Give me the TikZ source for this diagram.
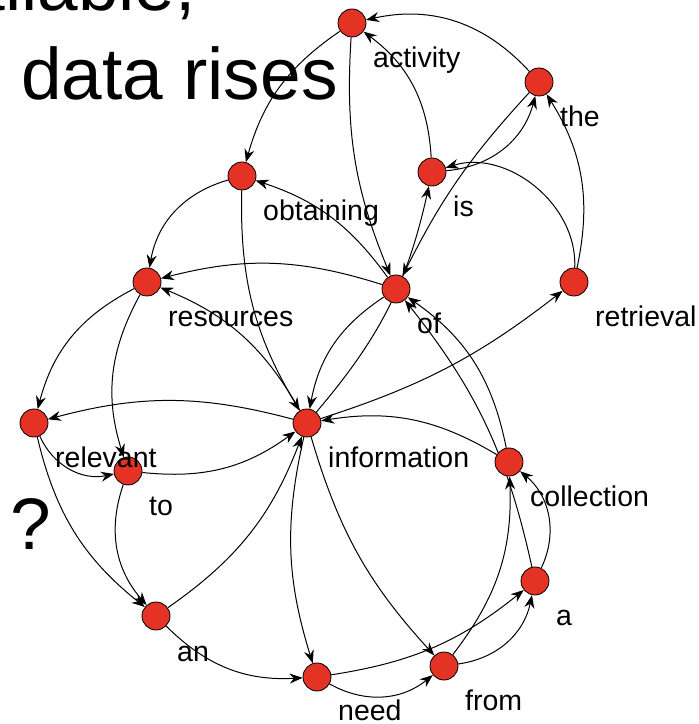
\documentclass[tikz,border=0pt]{standalone}
\usepackage{fontspec}
\setmainfont{Liberation Sans}
\usetikzlibrary{arrows.meta}
\definecolor{nodered}{RGB}{228,50,36}
\pgfdeclarelayer{bg}
\pgfsetlayers{bg,main}
\begin{document}
\begin{tikzpicture}[x=1pt,y=1pt,
  vtx/.style={circle,draw=black,line width=0.8pt,fill=nodered,minimum size=28pt,inner sep=0pt},
  lbl/.style={anchor=base west,inner sep=0pt,font=\fontsize{28.5}{34}\selectfont},
  big/.style={inner sep=0pt,font=\fontsize{73}{86}\selectfont},
  arc/.style={draw=black,line width=1pt,-{Stealth[length=13pt,width=10pt]}}
]
\useasboundingbox (0,0) rectangle (699,724);
% background text
\node[big,anchor=base east] (t1) at (196,713) {available,};
\node[big,anchor=base west] (t2) at (21,624) {data rises};
\node[big,anchor=base west] (t3) at (10,174) {?};
% vertices
\node[vtx] (act)  at (352,701) {};
\node[vtx] (the)  at (539,642) {};
\node[vtx] (is)   at (432,552) {};
\node[vtx] (obt)  at (242,548) {};
\node[vtx] (res)  at (147,442) {};
\node[vtx] (of)   at (396,435) {};
\node[vtx] (ret)  at (574,442) {};
\node[vtx] (rel)  at (34,301) {};
\node[vtx] (inf)  at (307,301) {};
\node[vtx] (to)   at (128,253) {};
\node[vtx] (col)  at (509,262) {};
\node[vtx] (a)    at (535,143) {};
\node[vtx] (an)   at (156,108) {};
\node[vtx] (need) at (317,47) {};
\node[vtx] (from) at (444,58) {};
% labels
\node[lbl] (lact)  at (373,656) {activity};
\node[lbl] (lthe)  at (560,597) {the};
\node[lbl] (lis)   at (453,507) {is};
\node[lbl] (lobt)  at (263,503) {obtaining};
\node[lbl] (lres)  at (168,397) {resources};
\node[lbl] (lof)   at (417,390) {of};
\node[lbl] (lret)  at (595,397) {retrieval};
\node[lbl] (lrel)  at (55,256) {relevant};
\node[lbl] (linf)  at (328,256) {information};
\node[lbl] (lto)   at (149,208) {to};
\node[lbl] (lcol)  at (530,217) {collection};
\node[lbl] (la)    at (556,98) {a};
\node[lbl] (lan)   at (177,63) {an};
\node[lbl] (lneed) at (338,3) {need};
\node[lbl] (lfrom) at (465,13) {from};
% edges
\begin{pgfonlayer}{bg}
\draw[arc] (inf) to[bend right=10] (ret);
\draw[arc] (inf) to[bend right=14] (is);
\draw[arc] (ret) to[bend right=55] (is);
\draw[arc] (ret) to[bend right=22] (the);
\draw[arc] (is) to[bend right=35] (the);
\draw[arc] (is) to[bend right=25] (act);
\draw[arc] (the) to[bend right=30] (act);
\draw[arc] (the) to[bend right=8] (of);
\draw[arc] (act) to[bend right=13] (of);
\draw[arc] (act) to[bend right=20] (obt);
\draw[arc] (of) to[bend right=18] (obt);
\draw[arc] (of) to[bend right=23] (inf);
\draw[arc] (obt) to[bend right=16] (inf);
\draw[arc] (obt) to[bend right=32] (res);
\draw[arc] (inf) to[bend right=19] (res);
\draw[arc] (inf) to[bend right=15] (rel);
\draw[arc] (res) to[bend right=24] (rel);
\draw[arc] (res) to[bend right=23] (to);
\draw[arc] (rel) to[bend right=39] (to);
\draw[arc] (rel) to[bend right=19] (an);
\draw[arc] (to) to[bend right=30] (an);
\draw[arc] (to) to[bend right=21] (inf);
\draw[arc] (an) to[bend right=17] (inf);
\draw[arc] (an) to[bend right=24] (need);
\draw[arc] (inf) to[bend right=15] (need);
\draw[arc] (inf) to[bend right=13] (from);
\draw[arc] (need) to[bend right=34] (from);
\draw[arc] (need) to[bend right=15] (a);
\draw[arc] (from) to[bend right=35] (a);
\draw[arc] (from) to[bend right=20] (col);
\draw[arc] (a) to[bend right=38] (col);
\draw[arc] (a) to[bend right=13] (of);
\draw[arc] (col) to[bend right=22] (of);
\draw[arc] (col) to[bend right=20] (inf);
\draw[arc] (of) to[bend right=16] (res);
\end{pgfonlayer}
\end{tikzpicture}
\end{document}
